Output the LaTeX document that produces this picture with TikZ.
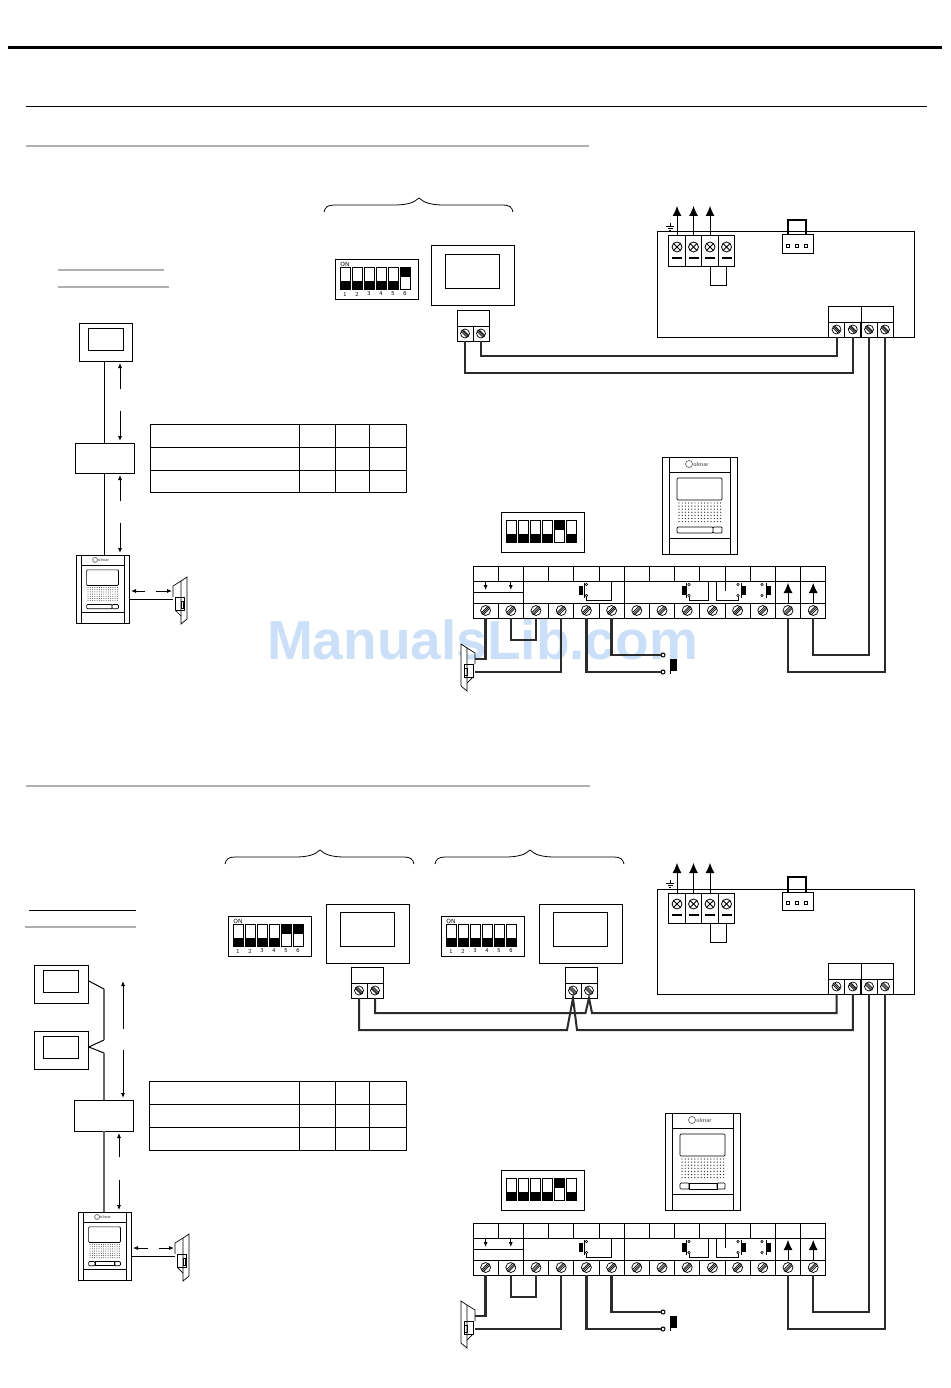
\documentclass[tikz,border=0pt]{standalone}
\usepackage{fontspec}
\usetikzlibrary{arrows.meta}
\usetikzlibrary{positioning}
\newfontfamily\markfont{Liberation Sans}
\definecolor{RuleGrey}{HTML}{B0B0B0}
\definecolor{WireDark}{HTML}{2B2B2B}
\definecolor{MarkBlue}{HTML}{CBE0F8}
\tikzset{
    x=1pt, y=-1pt,
    boxed/.style={draw, line width=1pt, inner sep=0pt, outer sep=0pt},
    wire/.style={draw=WireDark, line width=2pt},
    heavywire/.style={draw=WireDark, line width=2.5pt},
    span/.style={line width=.8pt, -{Latex[length=5pt,width=4pt]}},
    bigup/.style={line width=.8pt, -{Latex[length=10pt,width=9pt]}},
    cell/.style={boxed, minimum width=16pt, minimum height=15pt, path picture={
        \draw[shift={(path picture bounding box.center)}, line width=.7pt] (0,0) circle (4.5)
            (-3,-3) -- (3,3) (-1.5,-3.4) -- (3.4,1.5) (-3.4,-1.5) -- (1.5,3.4);}},
    stripcell/.style={boxed, minimum width=25.2pt, minimum height=15pt, path picture={
        \draw[shift={(path picture bounding box.center)}, line width=.7pt] (0,0) circle (5)
            (-3.4,3.4) -- (3.4,-3.4) (-3.8,1.7) -- (1.7,-3.8) (-1.7,3.8) -- (3.8,-1.7);}},
    crosscell/.style={boxed, minimum width=16.5pt, minimum height=30pt, path picture={
        \draw[shift={(path picture bounding box.center)}, line width=.8pt] (0,-4) circle (5)
            (-3.5,-7.5) -- (3.5,-.5) (-3.5,-.5) -- (3.5,-7.5);
        \draw[shift={(path picture bounding box.center)}, line width=1.6pt] (-5,7) -- (5,7);}},
    diptext/.style={font=\fontsize{6}{7}\selectfont\sffamily, inner sep=0pt},
}
\newcommand{\monitor}[4]{
    \node[boxed, anchor=north west, minimum width=#4*83pt, minimum height=#4*59pt] (#1) at (#2,#3) {};
    \node[boxed, anchor=north west, minimum width=#4*54pt, minimum height=#4*34pt] (#1in) at (#2+#4*14,#3+#4*8) {};
}
\newcommand{\dipset}[4]{
    \node[boxed, anchor=north west, minimum width=83pt, minimum height=40pt] (#1) at (#2,#3) {};
    \begin{scope}[shift={(#2,#3)}]
        \foreach \up [count=\i] in {#4} {
            \pgfmathsetmacro{\sx}{5+12*(\i-1)}
            \draw[line width=.8pt] (\sx,8) rectangle ++(10,22);
            \ifnum\up=1 \fill (\sx,8) rectangle ++(10,10); \else \fill (\sx,22) rectangle ++(10,8); \fi
        }
    \end{scope}
}
\newcommand{\diplabels}[1]{
    \node[diptext] (#1on) at ([xshift=10pt,yshift=-5pt]#1.north west) {ON};
    \foreach \i in {1,...,6} {
        \node[diptext] (#1n\i) at ([xshift=10pt+12pt*(\i-1),yshift=-35pt]#1.north west) {\i};
    }
}
\newcommand{\terminal}[3]{
    \node[boxed, anchor=north west, minimum width=32pt, minimum height=16pt] (#1top) at (#2,#3) {};
    \node[cell] (#1a) at (#2+8,#3+23.5) {};
    \node[cell] (#1b) at (#2+24,#3+23.5) {};
}
\newcommand{\bracetop}[2]{
    \draw[line width=.8pt] (#1,#2+14) .. controls (#1+1,#2+9) and (#1+4,#2+7) .. (#1+10,#2+7)
        -- (#1+70,#2+7) .. controls (#1+82,#2+7) and (#1+90,#2+5) .. (#1+95,#2)
        .. controls (#1+100,#2+5) and (#1+108,#2+7) .. (#1+120,#2+7)
        -- (#1+179,#2+7) .. controls (#1+185,#2+7) and (#1+188,#2+9) .. (#1+189,#2+14);
}
\newcommand{\settable}[2]{
    \draw[line width=1pt] (#1,#2) rectangle (406,#2+68.5);
    \draw[line width=1pt] (#1,#2+23) -- (406,#2+23) (#1,#2+46) -- (406,#2+46);
    \foreach \cx in {299,335,369} {
        \draw[line width=1pt] (\cx,#2) -- (\cx,#2+68.5);
    }
}
\newcommand{\doorpanel}[5]{
    \begin{scope}[shift={(#2,#3)}, scale=#4, line width=.7pt]
        \node[boxed, anchor=north west, minimum width=75pt, minimum height=97pt, transform shape] (#1) at (0,0) {};
        \draw (7,0) -- (7,97) (68,0) -- (68,97) (7,15) -- (68,15) (7,81) -- (68,81);
        \draw[rounded corners=1pt] (15,21) rectangle (60,43);
        \foreach \dx in {0,...,13} {
            \foreach \dy in {0,...,6} {
                \fill[black!75] (17+3.2*\dx,46+3.1*\dy) circle (.7);
            }
        }
        \ifnum#5=1
            \draw[rounded corners=1pt] (15,70) rectangle (51,76) (51,70) rectangle (60,76);
        \else
            \draw[rounded corners=1pt] (15,70) rectangle (24,76) (52,70) rectangle (60,76);
            \draw (24,70) rectangle (52,76);
        \fi
        \draw[black!60] (27,7) circle (3.5);
        \node[transform shape, text=black!60, font=\fontsize{6}{7}\selectfont\sffamily\bfseries, inner sep=0pt] (#1logo) at (39,7) {olmar};
    \end{scope}
}
\newcommand{\strike}[4]{
    \begin{scope}[shift={(#2,#3)}, xscale=#4, line width=.7pt]
        \draw[fill=white] (0,0) -- (6,4) -- (6,47) -- (0,42) -- cycle;
        \draw (6,4) -- (14,9) -- (14,20) (6,39) -- (12,33);
        \draw (3,20) -- (12,20) -- (12,33) -- (3,33) -- cycle;
        \draw (3.5,24) rectangle (6,31);
        \coordinate (#1up) at (14,15);
        \coordinate (#1mid) at (14,22);
        \coordinate (#1low) at (14,28);
    \end{scope}
}
\newcommand{\distbox}[2]{
    \begin{scope}[shift={(0,#2)}]
        \node[boxed, anchor=north west, minimum width=257pt, minimum height=105pt] (#1main) at (657,232) {};
        \foreach \i in {1,...,4} {
            \node[crosscell] (#1c\i) at (677+16.5*\i-16.5,251) {};
        }
        \foreach \i in {1,2,3} {
            \draw[bigup] (#1c\i.north) -- ++(0,-30);
        }
        \draw[line width=.7pt] (670,223) -- (670,226) (666,226) -- (674,226) (667.5,228) -- (672.5,228) (669,230) -- (671,230);
        \draw[line width=1pt] (#1c3.south) -- ++(0,19) -| (#1c4.south);
        \node[boxed, anchor=north west, minimum width=31pt, minimum height=18pt] (#1plug) at (782,235) {};
        \foreach \cx in {788,797,806} {
            \draw[line width=.8pt] (\cx-1.5,244.5) rectangle ++(3,3);
        }
        \draw[line width=2.2pt] (788,235) -- (788,220) -- (806,220) -- (806,235);
        \node[boxed, anchor=north west, minimum width=32.5pt, minimum height=16pt] (#1ra) at (828.5,306) {};
        \node[boxed, anchor=north west, minimum width=32pt, minimum height=16pt] (#1rb) at (861,306) {};
        \node[cell] (#1r1) at (836.5,329.5) {};
        \node[cell] (#1r2) at (852.8,329.5) {};
        \node[cell] (#1r3) at (869,329.5) {};
        \node[cell] (#1r4) at (885,329.5) {};
    \end{scope}
}
\newcommand{\blockstrip}[2]{
    \begin{scope}[shift={(0,#2)}]
        \foreach \i in {0,...,13} {
            \node[boxed, minimum width=25.2pt, minimum height=15pt] (#1t\i) at (485.6+25.2*\i,573.5) {};
            \node[stripcell] (#1s\i) at (485.6+25.2*\i,610.5) {};
        }
        \draw[line width=1pt] (473,581) -- (473,603) (523.4,581) -- (523.4,603) (624.2,581) -- (624.2,603)
            (775.4,581) -- (775.4,603) (800.6,581) -- (800.6,603) (825.8,581) -- (825.8,603)
            (473,592) -- (523.4,592) (725,581) -- (725,591);
        \draw[span] (#1t0.south) -- ++(0,9);
        \draw[span] (#1t1.south) -- ++(0,9);
        \draw[bigup] (#1s12.north) -- ++(0,-20);
        \draw[bigup] (#1s13.north) -- ++(0,-20);
        \foreach \bx/\tx/\cx in {579/584/586.5,682/686/689,742/741/738,767/766/762} {
            \fill (\bx,586) rectangle ++(3.6,9);
            \draw[line width=.6pt] (\tx,583) -- (\tx,598);
            \draw[line width=.6pt, fill=white] (\cx,584.5) circle (1.2) (\cx,595.5) circle (1.2);
        }
        \draw[line width=.8pt] (586.5,597) -- (586.5,600) -- (611.7,600) -- (611.7,581);
        \draw[line width=.8pt] (689,597) -- (689,600) -- (708,600) -- (708,581);
        \draw[line width=.8pt] (716.5,581) -- (716.5,600) -- (738,600) -- (738,597);
        \strike{#1lock}{461}{644}{1}
        \node[boxed, circle, fill=white, minimum size=4pt] (#1ca) at (663,655) {};
        \node[boxed, circle, fill=white, minimum size=4pt] (#1cb) at (663,672) {};
        \fill (671,659) rectangle ++(5.5,12);
        \draw[line width=.8pt] (670.5,659) -- (670.5,674);
        \draw[heavywire] (#1s0.south) |- (#1lockup);
        \draw[heavywire] (#1s1.south) -- ++(0,22) -| (#1s2.south);
        \draw[heavywire] (#1s3.south) |- (#1locklow);
        \draw[heavywire] (#1s4.south) |- (#1cb.west);
        \draw[heavywire] (#1s5.south) |- (#1ca.west);
        \draw[wire] (#1s13.south) -- ++(0,37) -| (#1r3.south);
        \draw[wire] (#1s12.south) -- ++(0,54) -| (#1r4.south);
    \end{scope}
}

\begin{document}
\begin{tikzpicture}
    \useasboundingbox (0,0) rectangle (950,1388);
    \node[text=MarkBlue, font=\markfont\bfseries\fontsize{55}{60}\selectfont, inner sep=0pt] (watermark) at (482.5,640) {ManualsLib.com};

    \draw[line width=3pt] (8,48) -- (942,48);
    \draw[line width=1pt] (26,106.5) -- (927,106.5);
    \draw[RuleGrey, line width=2pt] (26,146) -- (589,146);
    \draw[RuleGrey, line width=2pt] (58,270) -- (164,270);
    \draw[RuleGrey, line width=2pt] (58,287) -- (169,287);

    \monitor{mona}{79}{323}{.65}
    \node[boxed, anchor=north west, minimum width=59pt, minimum height=30pt] (boxa) at (75,443) {};
    \doorpanel{doora}{76}{555}{.707}{1}
    \strike{locka}{187}{577}{-1}
    \draw[line width=1pt] (boxa.north) -- (boxa.north |- mona.south);
    \draw[line width=1pt] (boxa.south) -- (boxa.south |- doora.north);
    \draw[line width=1pt] (lockamid -| doora.east) -- (lockamid);
    \foreach \n/\xa/\ya/\xb/\yb in {sa/120/389/120/363, sb/120/411/120/441, sc/120/501/120/475, sd/120/523/120/553, se/145/591/131/591, sf/156/591/172/591} {
        \coordinate (\n from) at (\xa,\ya);
        \coordinate (\n to) at (\xb,\yb);
        \draw[span] (\n from) -- (\n to);
    }
    \settable{150}{424}

    \bracetop{324}{198}
    \dipset{dipa}{335}{259}{0,0,0,0,0,1}
    \diplabels{dipa}
    \monitor{scra}{431}{246}{1}
    \terminal{ta}{457}{310}
    \distbox{a}{0}
    \draw[wire] (tab.south) -- ++(0,15) -| (ar1.south);
    \draw[wire] (taa.south) -- ++(0,32) -| (ar2.south);
    \dipset{dipb}{501.5}{512}{0,0,0,0,1,0}
    \doorpanel{doorb}{662}{457}{1}{1}
    \blockstrip{a}{0}

    \draw[RuleGrey, line width=2pt] (26,786) -- (590,786);
    \draw[line width=1pt] (29,910) -- (136,910);
    \draw[RuleGrey, line width=2pt] (25,927) -- (136,927);

    \monitor{monc}{34}{965}{.66}
    \monitor{mond}{34}{1031}{.66}
    \node[boxed, anchor=north west, minimum width=59pt, minimum height=31pt] (boxc) at (74,1100) {};
    \doorpanel{doorc}{78}{1212}{.707}{2}
    \strike{lockc}{189}{1234}{-1}
    \coordinate (benda) at (104,989);
    \coordinate (bendb) at (104,1040);
    \coordinate (bendc) at (104,1053);
    \draw[line width=1pt] ([yshift=3.5pt]monc.east) -- (benda);
    \draw[line width=1pt] (bendb) -- ([yshift=3.5pt]mond.east) -- (bendc);
    \draw[black!60, line width=1.5pt] (benda) -- (bendb) (bendc) -- (boxc.north -| bendc);
    \draw[black!60, line width=1.5pt] (boxc.south -| bendc) -- (doorc.north -| bendc);
    \draw[line width=1pt] (lockcmid -| doorc.east) -- (lockcmid);
    \foreach \n/\xa/\ya/\xb/\yb in {sg/123/1029/123/981, sh/123/1050/123/1098, si/119/1157/119/1133, sj/119/1180/119/1210, sk/148/1248/133/1248, sl/159/1248/174/1248} {
        \coordinate (\n from) at (\xa,\ya);
        \coordinate (\n to) at (\xb,\yb);
        \draw[span] (\n from) -- (\n to);
    }
    \settable{149}{1081.5}

    \bracetop{225}{850}
    \bracetop{435}{850}
    \dipset{dipc}{228}{916}{0,0,0,0,1,1}
    \diplabels{dipc}
    \dipset{dipd}{441}{916}{0,0,0,0,0,0}
    \diplabels{dipd}
    \monitor{scrc}{326}{904}{1}
    \monitor{scrd}{539}{904}{1}
    \terminal{tc}{351}{967}
    \terminal{td}{565}{967}
    \distbox{b}{657}
    \coordinate (lowa) at (567,1030);
    \coordinate (lowb) at (577,1030);
    \coordinate (higha) at (585.5,1013);
    \coordinate (highb) at (592,1013);
    \draw[wire] (tca.south) |- (lowa) -- (tda.south) -- (lowb) -| (br2.south);
    \draw[wire] (tcb.south) |- (higha) -- (tdb.south) -- (highb) -| (br1.south);
    \dipset{dipe}{501.5}{1170}{0,0,0,0,1,0}
    \doorpanel{doore}{665}{1113}{1}{2}
    \blockstrip{b}{657}
\end{tikzpicture}
\end{document}
